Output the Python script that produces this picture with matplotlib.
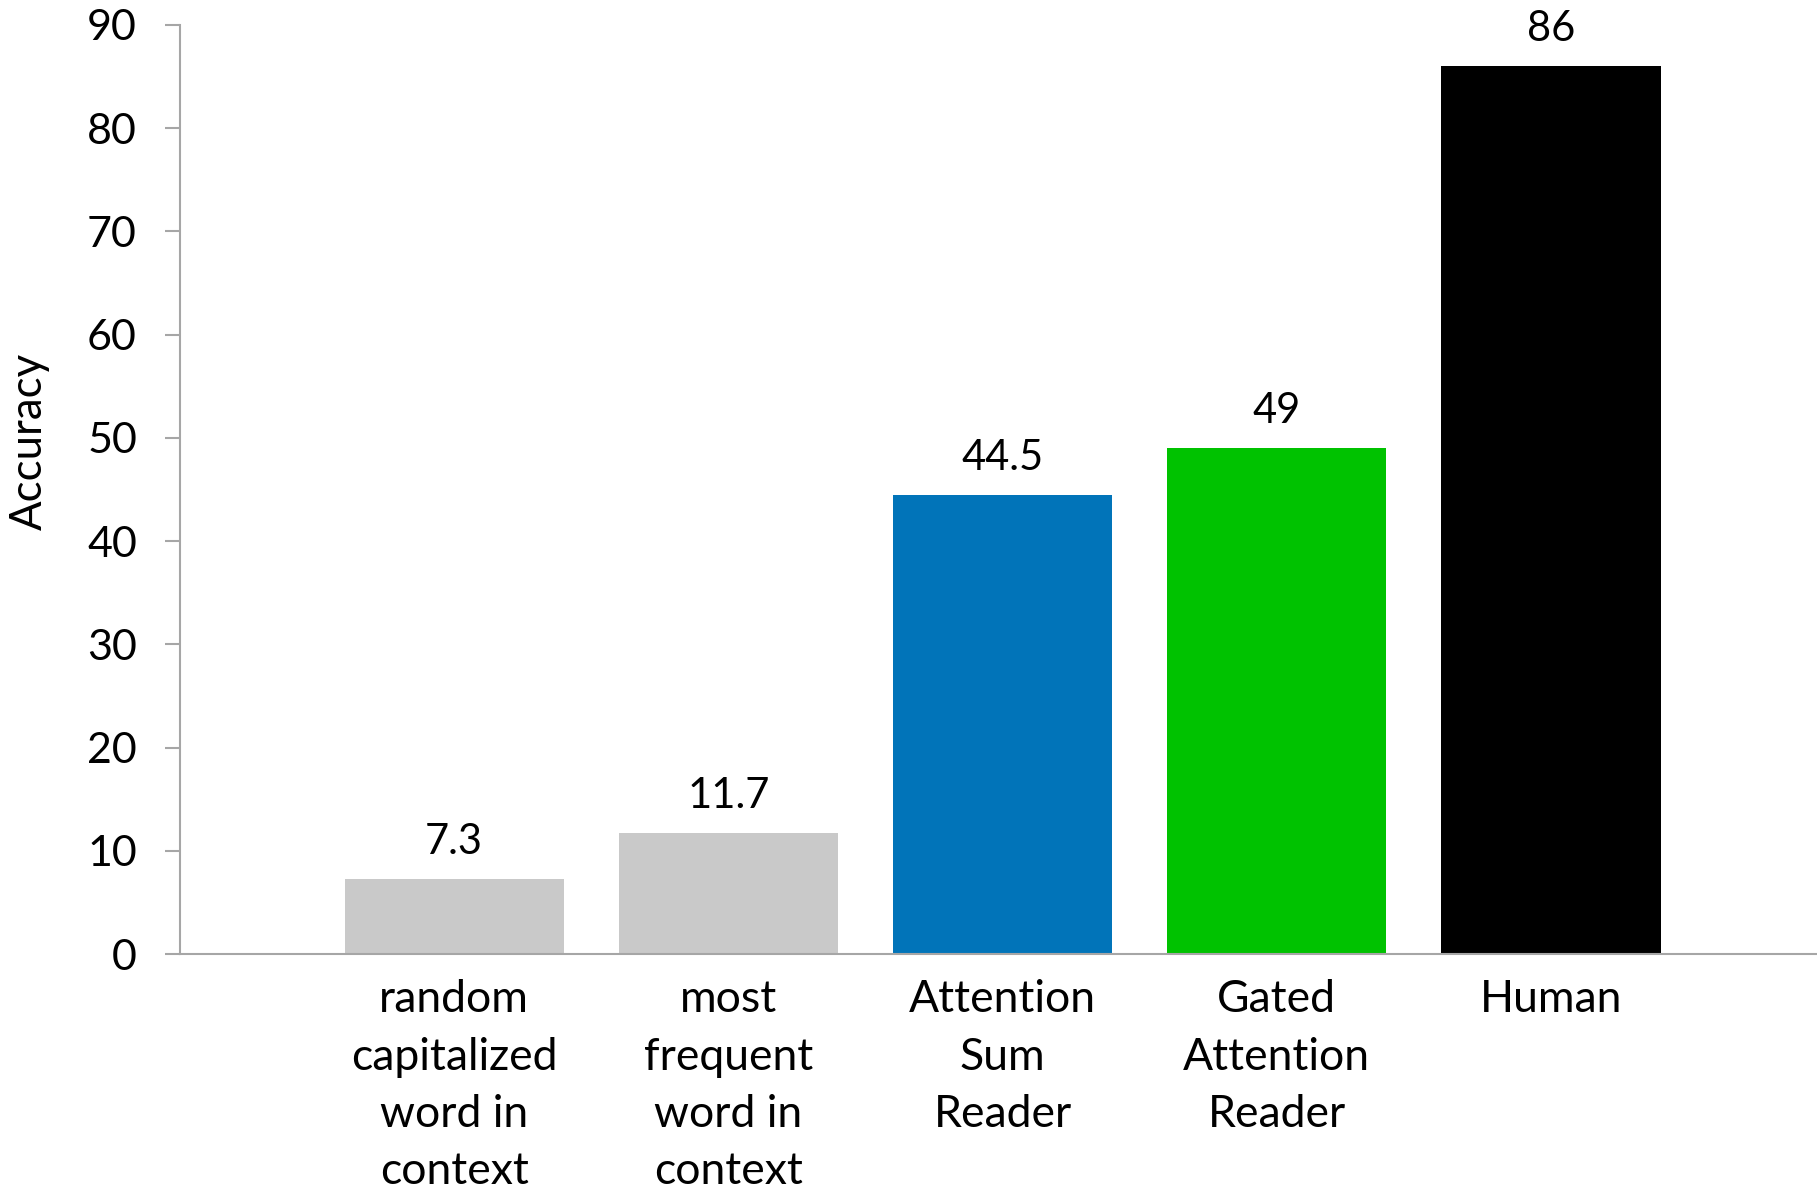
import numpy as np
import matplotlib
matplotlib.use("Agg")
import matplotlib.pyplot as plt

plt.rcParams['font.family'] = ['Lato', 'DejaVu Sans']

categories = ["random\ncapitalized\nword in\ncontext",
              "most\nfrequent\nword in\ncontext",
              "Attention\nSum\nReader",
              "Gated\nAttention\nReader",
              "Human"]
accuracy = [7.3, 11.7, 44.5, 49, 86]
value_labels = ["7.3", "11.7", "44.5", "49", "86"]
bar_colors = ["#c9c9c9", "#c9c9c9", "#0174b9", "#00c200", "#000000"]

fig = plt.figure(figsize=(18.17, 11.89), dpi=100)
ax = fig.add_axes([180 / 1817, 1 - 954 / 1189, 1 - 180 / 1817, (954 - 25) / 1189])

x = np.arange(1, len(categories) + 1)
bars = ax.bar(x, accuracy, width=0.8, color=bar_colors)

for xi, v, lab in zip(x, accuracy, value_labels):
    ax.annotate(lab, (xi, v), xytext=(0, 13), textcoords="offset points",
                ha="center", va="bottom", fontsize=30)

ax.set_xlim(0, 5.97)
ax.set_ylim(0, 90)
ax.set_yticks(range(0, 91, 10))
ax.set_xticks(x)
ax.set_xticklabels(categories, fontsize=32, linespacing=1.5, va="top")
ax.tick_params(axis="x", length=0, pad=18)
ax.tick_params(axis="y", length=11, width=1.5, color="#a6a6a6", labelsize=31, pad=20)

for side in ("top", "right"):
    ax.spines[side].set_visible(False)
for side in ("left", "bottom"):
    ax.spines[side].set_color("#a6a6a6")
    ax.spines[side].set_linewidth(1.5)

ax.set_ylabel("Accuracy", fontsize=31.5, va="center")
ax.yaxis.set_label_coords(-0.092, 0.552)

fig.savefig("out.png", dpi=100)
